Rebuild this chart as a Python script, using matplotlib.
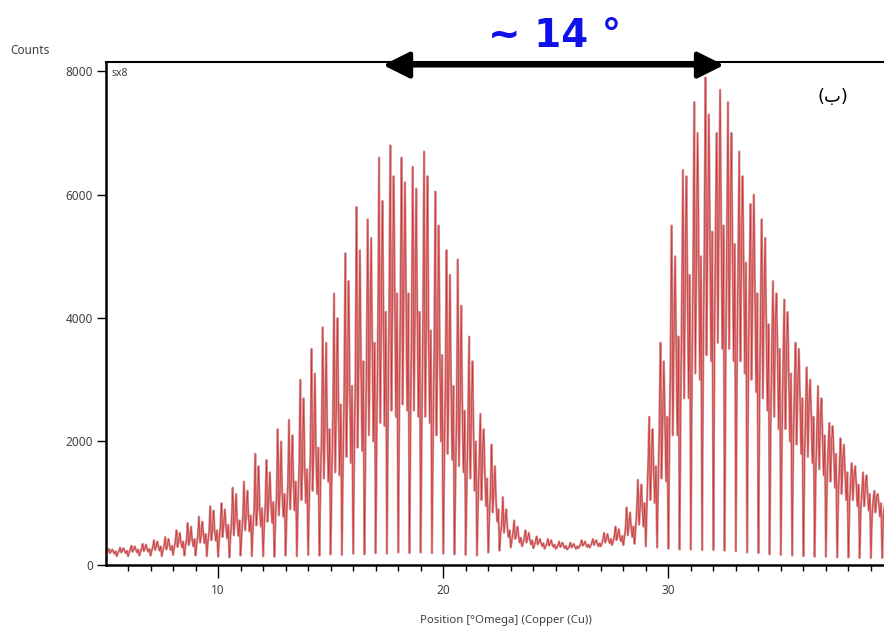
import numpy as np
import matplotlib.pyplot as plt

plt.rcParams['font.family'] = ['Noto Sans', 'DejaVu Sans']

# omega scan, one sample every 0.05 deg starting at 5.0 deg
start_deg = 5.0
step_deg = 0.05
counts = [
    # 5
    130, 180, 220, 260, 190, 230, 250, 210, 180, 220, 140, 190, 230, 280, 200, 240, 270, 220, 190, 230,
    # 6
    140, 200, 250, 310, 210, 260, 300, 240, 200, 250, 150, 210, 260, 340, 220, 270, 330, 250, 210, 260,
    # 7
    150, 230, 290, 400, 240, 300, 380, 290, 230, 300, 140, 240, 310, 450, 250, 320, 420, 300, 240, 310,
    # 8
    160, 280, 370, 560, 290, 390, 520, 360, 280, 380, 150, 300, 400, 680, 320, 420, 620, 400, 300, 420,
    # 9
    150, 340, 480, 780, 360, 500, 700, 480, 350, 500, 140, 380, 540, 950, 400, 580, 880, 540, 390, 560,
    # 10
    130, 420, 620, 1000, 450, 660, 900, 620, 430, 650, 120, 460, 700, 1250, 480, 740, 1150, 700, 470, 720,
    # 11
    150, 520, 780, 1350, 560, 820, 1200, 780, 540, 800, 140, 600, 900, 1800, 640, 950, 1600, 880, 620, 920,
    # 12
    140, 650, 980, 1700, 700, 1050, 1500, 1000, 680, 1020, 130, 760, 1150, 2200, 800, 1200, 2000, 1120, 780, 1150,
    # 13
    150, 850, 1300, 2350, 900, 1400, 2100, 1300, 880, 1350, 140, 1000, 1550, 3000, 1050, 1650, 2700, 1500, 1000, 1550,
    # 14
    160, 1100, 1800, 3500, 1200, 1900, 3100, 1800, 1150, 1900, 150, 1350, 2150, 3850, 1400, 2300, 3600, 2100, 1350, 2200,
    # 15
    170, 1400, 2400, 4400, 1500, 2600, 4000, 2500, 1450, 2600, 160, 1650, 2800, 5050, 1750, 3000, 4600, 2800, 1650, 2900,
    # 16
    180, 1800, 3100, 5800, 1900, 3300, 5100, 3200, 1850, 3300, 170, 2000, 3500, 5600, 2100, 3700, 5300, 3500, 2000, 3600,
    # 17
    190, 2200, 3800, 6600, 2300, 4000, 5900, 3900, 2250, 4100, 180, 2400, 4300, 6800, 2500, 4500, 6300, 4300, 2400, 4400,
    # 18
    200, 2500, 4300, 6600, 2600, 4500, 6200, 4300, 2500, 4400, 190, 2400, 4100, 6450, 2500, 4200, 6100, 4000, 2400, 4100,
    # 19
    200, 2300, 3900, 6700, 2400, 4000, 6300, 3800, 2300, 3800, 190, 2000, 3500, 6050, 2100, 3600, 5500, 3400, 2000, 3400,
    # 20
    180, 1700, 3000, 5100, 1800, 3100, 4700, 2900, 1700, 2900, 170, 1500, 2600, 4950, 1600, 2700, 4200, 2500, 1500, 2500,
    # 21
    160, 1300, 2300, 3700, 1400, 2400, 3300, 2100, 1200, 2000, 150, 1000, 1700, 2450, 1050, 1800, 2200, 1500, 950, 1400,
    # 22
    200, 800, 1200, 1950, 850, 1250, 1600, 1000, 700, 900, 230, 500, 700, 1100, 520, 720, 900, 600, 450, 560,
    # 23
    280, 400, 520, 720, 420, 500, 620, 460, 360, 440, 300, 350, 430, 560, 360, 440, 520, 400, 330, 400,
    # 24
    270, 320, 380, 460, 330, 380, 420, 350, 300, 350, 260, 300, 340, 420, 310, 350, 400, 320, 290, 330,
    # 25
    260, 280, 320, 380, 290, 330, 360, 300, 270, 310, 250, 270, 300, 360, 280, 310, 340, 290, 260, 300,
    # 26
    270, 300, 330, 400, 310, 340, 380, 320, 290, 330, 280, 310, 360, 420, 320, 370, 400, 340, 300, 350,
    # 27
    300, 350, 420, 520, 360, 430, 500, 400, 350, 420, 320, 380, 460, 620, 400, 480, 580, 440, 380, 470,
    # 28
    320, 450, 600, 930, 480, 640, 850, 600, 450, 620, 340, 600, 900, 1380, 650, 950, 1300, 900, 620, 1000,
    # 29
    300, 1000, 1600, 2400, 1050, 1700, 2200, 1500, 1000, 1600, 280, 1300, 2200, 3600, 1400, 2400, 3300, 2300, 1350, 2400,
    # 30
    260, 2000, 3500, 5500, 2100, 3700, 5000, 3500, 2100, 3700, 250, 2600, 4300, 6400, 2700, 4600, 6300, 4500, 2700, 4700,
    # 31
    250, 3000, 4800, 7500, 3100, 5000, 7000, 4900, 3000, 5000, 240, 3300, 5200, 7900, 3400, 5500, 7300, 5300, 3300, 5400,
    # 32
    240, 3500, 5500, 7000, 3600, 5600, 7700, 5400, 3500, 5500, 230, 3400, 5300, 7500, 3500, 5400, 7000, 5200, 3300, 5200,
    # 33
    220, 3200, 5000, 6700, 3300, 5100, 6300, 4800, 3100, 4900, 200, 2900, 4600, 5850, 3000, 4700, 6000, 4400, 2800, 4400,
    # 34
    190, 2600, 4200, 5600, 2700, 4300, 5300, 3900, 2500, 3900, 170, 2300, 3600, 4600, 2400, 3800, 4400, 3500, 2200, 3500,
    # 35
    160, 2100, 3300, 4300, 2200, 3400, 4100, 3100, 2000, 3100, 150, 1900, 2800, 3600, 1950, 2900, 3500, 2700, 1800, 2700,
    # 36
    140, 1700, 2500, 3200, 1750, 2600, 3000, 2400, 1650, 2400, 130, 1500, 2200, 2900, 1550, 2300, 2700, 2100, 1450, 2100,
    # 37
    130, 1300, 1900, 2300, 1350, 2000, 2250, 1800, 1250, 1800, 120, 1100, 1600, 2050, 1150, 1700, 1950, 1500, 1050, 1500,
    # 38
    120, 1000, 1400, 1650, 1050, 1450, 1600, 1300, 950, 1300, 110, 900, 1200, 1500, 950, 1250, 1450, 1150, 880, 1150,
    # 39
    110, 800, 1050, 1200, 850, 1100, 1150, 1000, 780, 1000, 110, 750, 950,
]
omega = start_deg + step_deg * np.arange(len(counts))

y_ticks = [0, 2000, 4000, 6000, 8000]
x_ticks = [10, 20, 30]
arrow_from, arrow_to = 17.33, 32.47

fig = plt.figure(figsize=(8.84, 6.27), dpi=100)
ax = fig.add_axes([0.1199, 0.0981, 0.8801, 0.803])

ax.plot(omega, counts, color='#d68c8e', lw=1.6, zorder=2)
ax.plot(omega, counts, color='#c80f0f', lw=0.45, alpha=0.75, zorder=3)

ax.set_xlim(5.02, 39.58)
ax.set_ylim(-10, 8150)
ax.set_xticks(x_ticks)
ax.set_xticks(np.arange(6, 40, 1), minor=True)
ax.set_yticks(y_ticks)

for s in ['left', 'bottom']:
    ax.spines[s].set_linewidth(1.8)
ax.spines['top'].set_linewidth(1.5)
ax.spines['right'].set_visible(False)

ax.tick_params(axis='y', length=6.5, width=1, pad=3, labelsize=8.5, labelcolor='#404040')
ax.tick_params(axis='x', which='major', length=9, width=1, pad=4, labelsize=8.5, labelcolor='#404040')
ax.tick_params(axis='x', which='minor', length=4.5, width=1)

fig.text(10 / 884, 1 - 50 / 627, 'Counts', fontsize=8.5, color='#404040', va='center')
fig.text(506 / 884, 1 - 620 / 627, 'Position [°Omega] (Copper (Cu))', fontsize=8.2,
         color='#404040', ha='center', va='center')
fig.text(111 / 884, 1 - 74 / 627, 'sx8', fontsize=7.5, color='#404040', va='center')

# angular separation arrow
ax.annotate('', xy=(arrow_from, 8100), xytext=(arrow_to, 8100),
            arrowprops=dict(arrowstyle='<|-|>,head_length=0.8,head_width=0.4',
                            lw=3.5, color='black', mutation_scale=20,
                            shrinkA=0, shrinkB=0),
            annotation_clip=False, zorder=5)
fig.text(555 / 884, 1 - 36 / 627, '~ 14 °', fontsize=28, fontweight='bold',
         color='#1010e8', ha='center', va='center', family='DejaVu Sans')
fig.text(833 / 884, 1 - 97 / 627, '(ب)', fontsize=13, color='black',
         ha='center', va='center', family='DejaVu Sans')

fig.savefig('out.png', dpi=100)
